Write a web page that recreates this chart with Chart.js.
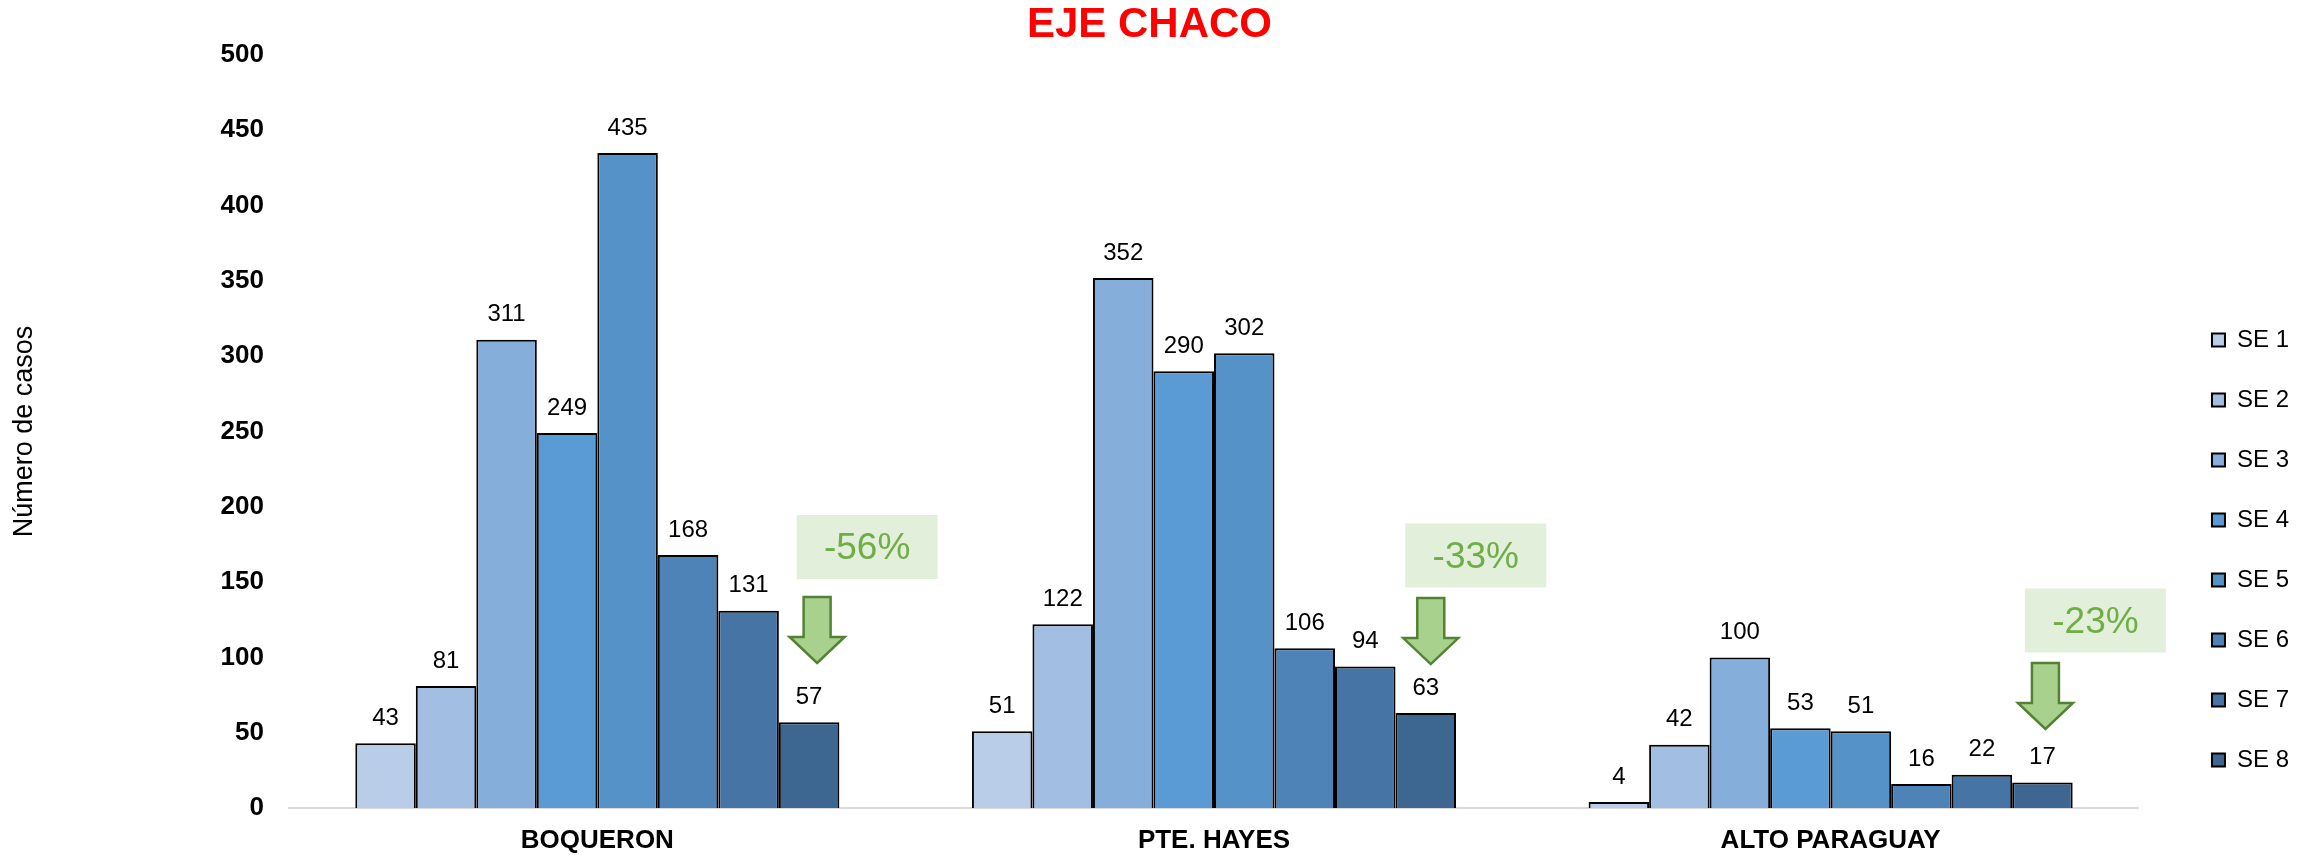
<!DOCTYPE html>
<html>
<head>
<meta charset="utf-8">
<script src="https://cdn.jsdelivr.net/npm/chart.js@4.4.1/dist/chart.umd.min.js"></script>
<style>
  html, body { margin: 0; padding: 0; background: #ffffff; }
  canvas { display: block; }
</style>
</head>
<body>
<canvas id="c" width="2313" height="855"></canvas>
<script>
// ---- data ----
const categories = ['BOQUERON', 'PTE. HAYES', 'ALTO PARAGUAY'];
const seriesNames = ['SE 1', 'SE 2', 'SE 3', 'SE 4', 'SE 5', 'SE 6', 'SE 7', 'SE 8'];
const se1 = [43, 51, 4];
const se2 = [81, 122, 42];
const se3 = [311, 352, 100];
const se4 = [249, 290, 53];
const se5 = [435, 302, 51];
const se6 = [168, 106, 16];
const se7 = [131, 94, 22];
const se8 = [57, 63, 17];
const changeLabels = ['-56%', '-33%', '-23%'];
const yMin = 0, yMax = 500, yStep = 50;

// ---- styles ----
const barColors = ['#B9CDE8', '#A2BEE3', '#85AEDB', '#5B9BD5', '#5592C8', '#4E83B8', '#4674A5', '#3D6791'];
const FONT = "'Liberation Sans', Arial, sans-serif";
// annotation placement (box centre / arrow top expressed in axis values, horizontal offsets in px from last bar)
const annotPlacement = [
  { boxDx: 58, boxVal: 173.3, arrowDx: 8, arrowTopVal: 140.1 },
  { boxDx: 50, boxVal: 167.7, arrowDx: 5, arrowTopVal: 139.4 },
  { boxDx: 53, boxVal: 124.5, arrowDx: 3, arrowTopVal: 96.3 }
];

const allSeries = [se1, se2, se3, se4, se5, se6, se7, se8];
const datasets = allSeries.map((vals, i) => ({
  label: seriesNames[i],
  data: vals,
  backgroundColor: barColors[i],
  borderColor: '#000000',
  borderWidth: 2,
  categoryPercentage: 0.785,
  barPercentage: 1.0
}));

Chart.defaults.font.family = FONT;

const valueLabels = {
  id: 'valueLabels',
  afterDatasetsDraw(chart) {
    const ctx = chart.ctx;
    ctx.save();
    ctx.font = "24px " + FONT;
    ctx.fillStyle = '#000000';
    ctx.textAlign = 'center';
    ctx.textBaseline = 'middle';
    chart.data.datasets.forEach((ds, di) => {
      const meta = chart.getDatasetMeta(di);
      meta.data.forEach((el, i) => {
        ctx.fillText(String(ds.data[i]), el.x, el.y - 25);
      });
    });
    ctx.restore();
  }
};

const changeAnnotations = {
  id: 'changeAnnotations',
  afterDraw(chart) {
    const ctx = chart.ctx;
    const y = chart.scales.y;
    const lastMeta = chart.getDatasetMeta(chart.data.datasets.length - 1);
    ctx.save();
    changeLabels.forEach((txt, i) => {
      const p = annotPlacement[i];
      const bx = lastMeta.data[i].x;
      // box
      const cx = bx + p.boxDx;
      const cy = y.getPixelForValue(p.boxVal);
      const bw = 141, bh = 64;
      ctx.fillStyle = '#E2EFDA';
      ctx.fillRect(cx - bw / 2, cy - bh / 2, bw, bh);
      ctx.fillStyle = '#70AD47';
      ctx.font = "37px " + FONT;
      ctx.textAlign = 'center';
      ctx.textBaseline = 'middle';
      ctx.fillText(txt, cx, cy + 2);
      // arrow
      const ax = bx + p.arrowDx;
      const top = y.getPixelForValue(p.arrowTopVal);
      const shaftW = 27, headW = 55, shaftL = 40, headL = 26;
      ctx.beginPath();
      ctx.moveTo(ax - shaftW / 2, top);
      ctx.lineTo(ax + shaftW / 2, top);
      ctx.lineTo(ax + shaftW / 2, top + shaftL);
      ctx.lineTo(ax + headW / 2, top + shaftL);
      ctx.lineTo(ax, top + shaftL + headL);
      ctx.lineTo(ax - headW / 2, top + shaftL);
      ctx.lineTo(ax - shaftW / 2, top + shaftL);
      ctx.closePath();
      ctx.fillStyle = '#A9D18E';
      ctx.fill();
      ctx.strokeStyle = '#548235';
      ctx.lineWidth = 2.5;
      ctx.lineJoin = 'miter';
      ctx.stroke();
    });
    ctx.restore();
  }
};

new Chart(document.getElementById('c'), {
  type: 'bar',
  data: { labels: categories, datasets: datasets },
  options: {
    responsive: false,
    animation: false,
    devicePixelRatio: 1,
    layout: { padding: { left: 0, right: 14, top: 0, bottom: 0 } },
    plugins: {
      title: {
        display: true,
        text: 'EJE CHACO',
        color: '#FF0000',
        font: { size: 42, weight: 'bold', family: FONT },
        padding: { top: 0, bottom: 4.6 }
      },
      legend: {
        display: true,
        position: 'right',
        align: 'end',
        fullSize: false,
        labels: {
          boxWidth: 13,
          boxHeight: 13,
          padding: 36,
          color: '#000000',
          font: { size: 24, family: FONT }
        }
      },
      tooltip: { enabled: false }
    },
    scales: {
      x: {
        type: 'category',
        grid: { display: false, drawTicks: false },
        border: { display: true, color: '#D9D9D9', width: 2 },
        ticks: { color: '#000000', font: { size: 26, weight: 'bold', family: FONT }, padding: 17, maxRotation: 0 },
        afterFit(s) { s.height = 47; }
      },
      y: {
        type: 'linear',
        position: 'left',
        min: yMin,
        max: yMax,
        grid: { display: false, drawTicks: false },
        border: { display: false },
        ticks: { stepSize: yStep, color: '#000000', font: { size: 26, weight: 'bold', family: FONT }, padding: 25 },
        title: {
          display: true,
          text: 'Número de casos',
          color: '#000000',
          font: { size: 27, family: FONT },
          padding: { top: 8.8, bottom: 0 }
        },
        afterFit(s) { s.width = 289; }
      },
      yPad: {
        type: 'linear',
        position: 'right',
        display: true,
        grid: { display: false, drawTicks: false },
        border: { display: false },
        ticks: { display: false },
        afterFit(s) { s.width = 37; }
      }
    }
  },
  plugins: [valueLabels, changeAnnotations]
});
</script>
</body>
</html>
